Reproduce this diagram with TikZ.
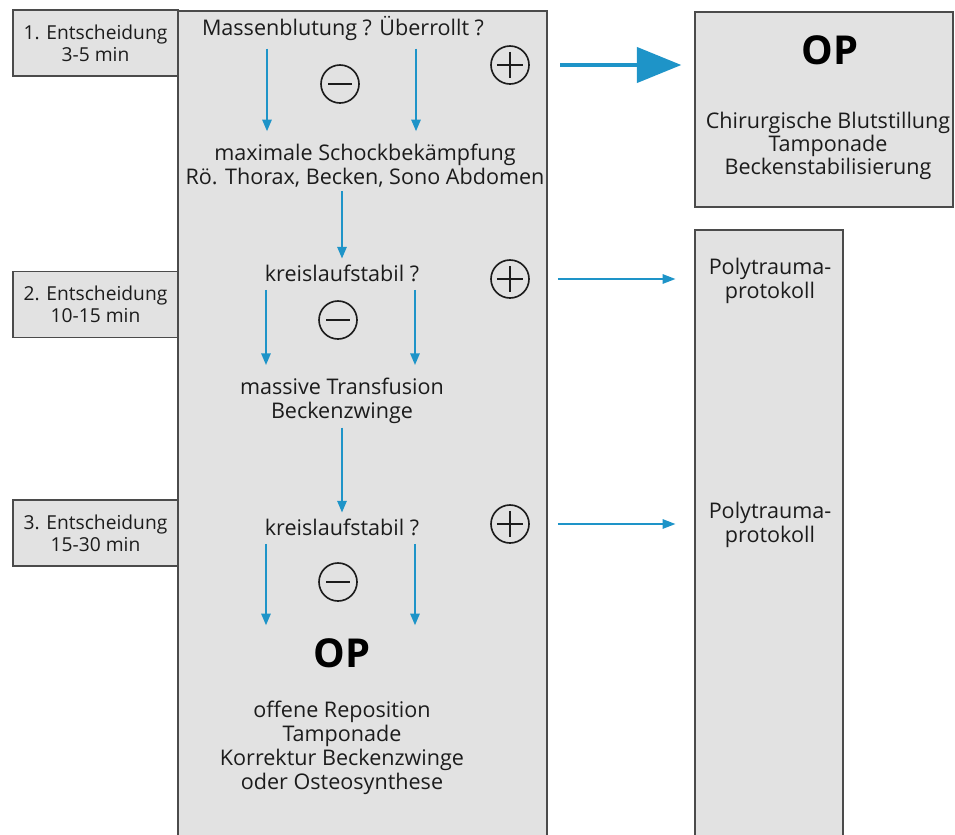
\documentclass[tikz,border=0pt]{standalone}
\usepackage{fontspec}
\setmainfont{Open Sans}
\usetikzlibrary{arrows.meta,calc}
\definecolor{flowblue}{RGB}{30,148,200}
\definecolor{panelgray}{RGB}{226,226,226}
\definecolor{framegray}{RGB}{75,75,75}
\definecolor{inkgray}{RGB}{28,28,28}

\begin{document}
\begin{tikzpicture}[
    x=0.03cm, y=-0.03cm,
    panel/.style={draw=framegray, line width=1.3pt, fill=panelgray, inner sep=0pt},
    stagebox/.style={panel, minimum width=4.95cm, minimum height=1.97cm, align=center, font=\fontsize{16.4}{19}\selectfont, text=inkgray},
    bodytext/.style={align=center, font=\fontsize{18.4}{20.5}\selectfont, text=inkgray, inner sep=1pt},
    optext/.style={font=\fontsize{34}{38}\selectfont\bfseries, text=black, inner sep=1pt},
    sign/.style={circle, draw=inkgray, line width=1.4pt, minimum size=1.14cm, inner sep=0pt},
    plussign/.style={sign, path picture={
        \draw[inkgray, line width=1.6pt]
            ([yshift=-5pt]path picture bounding box.north) -- ([yshift=5pt]path picture bounding box.south)
            ([xshift=5pt]path picture bounding box.west) -- ([xshift=-5pt]path picture bounding box.east);}},
    minussign/.style={sign, path picture={
        \draw[inkgray, line width=1.6pt]
            ([xshift=6pt]path picture bounding box.west) -- ([xshift=-6pt]path picture bounding box.east);}},
    flow/.style={flowblue, line width=1.6pt, -{Triangle[length=10pt, width=8pt]}, shorten <=6pt, shorten >=10pt},
    midflow/.style={flowblue, line width=1.6pt, -{Triangle[length=10pt, width=8pt]}, shorten <=2pt, shorten >=4pt},
    sideflow/.style={flowblue, line width=1.6pt, -{Triangle[length=11pt, width=8pt]}, shorten <=24pt, shorten >=16pt},
    bigflow/.style={flowblue, line width=3.4pt, -{Triangle[length=38pt, width=30pt]}, shorten <=26pt, shorten >=11pt},
]

\path[use as bounding box, clip] (0,0) rectangle (955,834);

% Frames (open at the bottom edge)
\node[panel, minimum width=11.07cm, minimum height=26.67cm] (mainbox) at (362.5,455.5) {};
\node[panel, minimum width=7.74cm, minimum height=5.85cm] (opbox) at (824,109.5) {};
\node[panel, minimum width=4.44cm, minimum height=20.1cm] (protobox) at (769,565) {};

% Decision stages
\node[stagebox] (stage1) at (95.5,43) {1. Entscheidung\\3-5 min};
\node[stagebox] (stage2) at (95.5,304.5) {2. Entscheidung\\10-15 min};
\node[stagebox] (stage3) at (95.5,533) {3. Entscheidung\\15-30 min};

% Main column
\node[bodytext] (q1) at (343,28) {Massenblutung ? Überrollt ?};
\node[minussign] (minus1) at (340,84) {};
\node[plussign] (plus1) at (510,65) {};
\node[bodytext] (t1) at (365,166) {maximale Schockbekämpfung\\Rö. Thorax, Becken, Sono Abdomen};
\node[bodytext] (q2) at (342,273) {kreislaufstabil ?};
\node[minussign] (minus2) at (338,320) {};
\node[plussign] (plus2) at (510,279) {};
\node[bodytext] (t2) at (342,401) {massive Transfusion\\Beckenzwinge};
\node[bodytext] (q3) at (342,527) {kreislaufstabil ?};
\node[minussign] (minus3) at (338,582) {};
\node[plussign] (plus3) at (510,524) {};
\node[optext] (op) at (342,653) {OP};
\node[bodytext] (t3) at (342,748) {offene Reposition\\Tamponade\\Korrektur Beckenzwinge\\oder Osteosynthese};

% Right column
\node[optext] (opR) at (830,50) {OP};
\node[bodytext, font=\fontsize{18.4}{18}\selectfont] (tR) at (828,146) {Chirurgische Blutstillung\\Tamponade\\Beckenstabilisierung};
\node[bodytext] (poly1) at (770,281) {Polytrauma-\\protokoll};
\node[bodytext] (poly2) at (770,525) {Polytrauma-\\protokoll};

% Minus branches
\foreach \a/\b in {q1/t1, q2/t2, q3/op} {
    \draw[flow] ($(\a.south)+(-76,0)$) -- ($(\a.south |- \b.north)+(-76,0)$);
    \draw[flow] ($(\a.south)+(73,0)$) -- ($(\a.south |- \b.north)+(73,0)$);
}
\draw[midflow] (t1.south -| q2.north) -- (q2.north);
\draw[midflow] (t2) -- (q3);

% Plus branches
\draw[bigflow] (plus1) -- (plus1 -| opbox.west);
\draw[sideflow] (plus2) -- (plus2 -| protobox.west);
\draw[sideflow] (plus3) -- (plus3 -| protobox.west);

\end{tikzpicture}
\end{document}
